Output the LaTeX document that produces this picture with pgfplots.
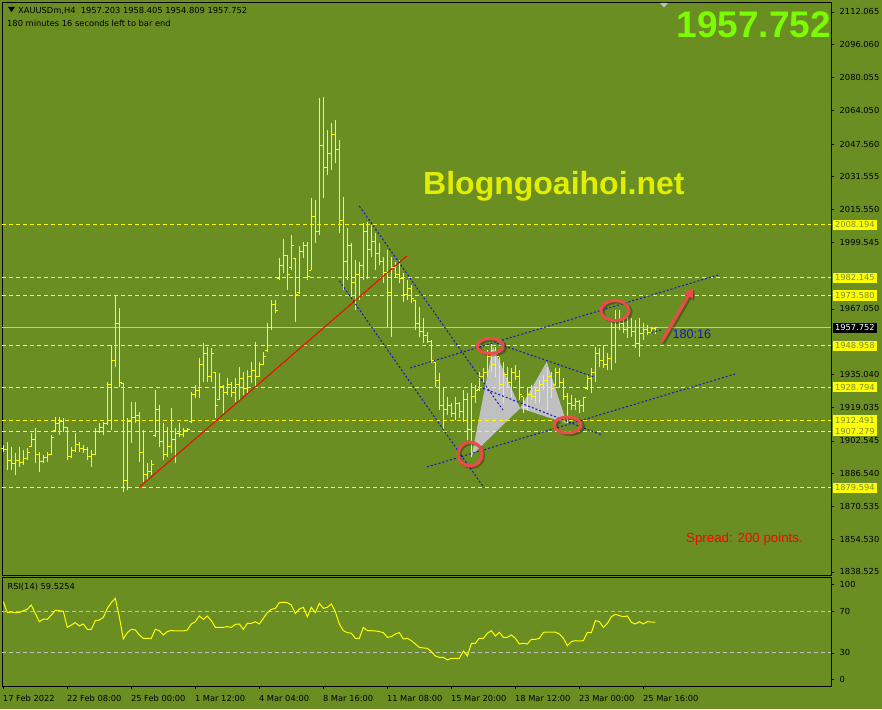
\documentclass[border=0pt]{standalone}
\usepackage{pgfplots}
\pgfplotsset{compat=1.18}
\usepackage{pgfplotstable}
\usepackage{fontspec}
\setmainfont{DejaVu Sans}
\newfontfamily\lib{Liberation Sans}
\usetikzlibrary{arrows.meta}
\definecolor{bg}{RGB}{107,142,35}
\definecolor{bar}{RGB}{255,255,0}
\definecolor{big}{RGB}{124,252,0}
\definecolor{wm}{RGB}{226,238,0}
\definecolor{anno}{RGB}{238,74,74}
\definecolor{ln}{RGB}{20,20,200}
\definecolor{silv}{RGB}{192,192,192}
\definecolor{lbltxt}{RGB}{120,140,60}

\pgfdeclareplotmark{openl}{\pgfpathmoveto{\pgfqpoint{-2.5pt}{0pt}}\pgfpathlineto{\pgfqpoint{0pt}{0pt}}\pgfusepathqstroke}
\pgfdeclareplotmark{closer}{\pgfpathmoveto{\pgfqpoint{0pt}{0pt}}\pgfpathlineto{\pgfqpoint{2.5pt}{0pt}}\pgfusepathqstroke}

\pgfplotstableread{
i o h l c
0 1899.0 1900.5 1897.3 1898.5
1 1898.5 1902.2 1888.3 1893.0
2 1893.0 1899.7 1888.3 1891.5
3 1891.5 1896.5 1885.9 1893.0
4 1893.0 1899.7 1889.9 1892.0
5 1892.0 1898.1 1890.8 1894.0
6 1894.0 1898.9 1893.2 1897.0
7 1900.0 1906.3 1899.7 1903.0
8 1903.0 1908.7 1891.6 1896.0
9 1896.0 1897.3 1887.5 1892.5
10 1892.5 1895.7 1891.6 1894.5
11 1894.5 1897.3 1892.4 1896.0
12 1896.0 1905.4 1895.7 1904.0
13 1907.5 1914.4 1907.0 1911.0
14 1911.0 1914.4 1905.4 1912.0
15 1912.0 1913.6 1907.0 1909.0
16 1909.0 1909.5 1893.2 1895.0
17 1895.0 1899.7 1894.0 1898.0
18 1898.0 1906.3 1897.3 1901.0
19 1901.0 1902.2 1897.3 1899.0
20 1899.0 1900.5 1896.5 1898.5
21 1898.5 1899.7 1893.2 1895.0
22 1895.0 1898.1 1889.9 1896.0
23 1896.0 1908.7 1895.7 1907.0
24 1907.0 1911.1 1906.3 1909.0
25 1909.0 1911.9 1905.4 1911.0
26 1911.0 1931.5 1910.3 1930.0
27 1930.0 1949.4 1907.9 1942.0
28 1942.0 1973.8 1938.8 1960.0
29 1960.0 1967.3 1929.0 1931.0
30 1930.7 1930.7 1877.7 1883.0
31 1883.0 1913.6 1878.6 1912.0
32 1912.0 1921.7 1901.4 1914.0
33 1914.0 1921.7 1911.1 1915.0
34 1915.0 1916.8 1892.4 1897.0
35 1897.0 1907.9 1882.6 1886.0
36 1886.0 1891.6 1883.4 1887.5
37 1887.5 1893.2 1885.9 1891.0
38 1905.0 1927.4 1904.6 1918.0
39 1918.0 1920.1 1899.7 1902.0
40 1902.0 1911.1 1893.2 1896.0
41 1896.0 1909.5 1894.8 1900.0
42 1900.0 1918.5 1896.5 1903.0
43 1903.0 1908.7 1891.6 1906.0
44 1906.0 1911.1 1904.6 1905.5
45 1905.5 1908.7 1904.6 1907.5
46 1907.5 1908.7 1907.0 1908.0
47 1912.0 1926.6 1911.9 1925.0
48 1925.0 1929.9 1923.4 1927.0
49 1927.0 1942.9 1923.4 1940.0
50 1940.0 1950.2 1931.5 1945.0
51 1945.0 1948.6 1931.5 1934.0
52 1934.0 1947.8 1931.5 1945.0
53 1936.0 1936.4 1913.6 1920.0
54 1923.0 1935.6 1922.5 1929.0
55 1929.0 1929.9 1916.0 1926.0
56 1926.0 1933.1 1925.0 1930.0
57 1930.0 1931.5 1924.1 1926.0
58 1926.0 1933.1 1921.7 1930.0
59 1930.0 1938.8 1922.5 1933.0
60 1933.0 1936.4 1925.0 1928.0
61 1928.0 1937.2 1925.8 1934.0
62 1934.0 1941.2 1930.7 1937.0
63 1937.0 1951.0 1929.0 1934.0
64 1934.0 1941.2 1933.9 1940.0
65 1940.0 1946.1 1939.6 1944.0
66 1946.5 1960.0 1946.1 1958.0
67 1958.0 1971.4 1956.7 1969.0
68 1969.0 1971.4 1964.9 1966.0
69 1982.0 1991.7 1981.1 1988.0
70 1988.0 2001.2 1984.4 1993.0
71 1993.0 1993.4 1976.3 1984.0
72 1987.0 2003.1 1986.0 1998.0
73 1991.7 1991.7 1960.8 1974.0
74 1975.0 1997.8 1974.6 1995.0
75 1995.0 1999.9 1991.7 1998.0
76 1998.0 1999.9 1981.1 1983.0
77 1986.0 2021.1 1986.0 2012.0
78 2012.0 2020.2 1999.1 2005.0
79 2005.0 2069.9 2003.1 2047.0
80 2047.0 2070.4 2021.1 2036.0
81 2036.0 2054.4 2032.4 2043.0
82 2043.0 2057.7 2034.9 2052.0
83 2052.0 2059.3 2038.2 2045.0
84 2045.0 2049.5 2004.0 2010.0
85 2010.0 2021.8 1976.3 1990.0
86 1990.0 2006.4 1981.1 1998.0
87 1998.0 1999.1 1973.0 1980.0
88 1980.0 1990.9 1966.5 1984.0
89 1984.0 1990.1 1971.4 1988.0
90 1988.0 2008.8 1981.1 2005.0
91 2005.0 2009.6 1981.8 1996.0
92 1996.0 2008.0 1992.5 2000.0
93 2000.0 2004.0 1986.0 1994.0
94 1994.0 1999.1 1988.5 1990.0
95 1990.0 1992.5 1979.5 1985.0
96 1985.0 1995.8 1958.3 1975.0
97 1975.0 1992.5 1953.3 1987.0
98 1987.0 1990.1 1982.0 1984.0
99 1984.0 1990.9 1979.5 1982.0
100 1982.0 1984.4 1970.5 1974.0
101 1974.0 1981.1 1971.4 1977.0
102 1977.0 1978.7 1969.8 1972.0
103 1971.0 1971.4 1956.7 1960.0
104 1960.0 1968.1 1953.3 1956.0
105 1956.0 1962.6 1950.2 1954.0
106 1954.0 1955.9 1950.2 1951.0
107 1951.0 1951.8 1940.4 1942.0
108 1941.0 1941.2 1929.0 1932.0
109 1932.0 1935.6 1917.6 1920.0
110 1920.0 1928.2 1907.9 1918.0
111 1918.0 1924.1 1915.2 1920.0
112 1920.0 1920.9 1914.4 1916.0
113 1916.0 1924.1 1912.8 1921.0
114 1921.0 1921.7 1913.6 1917.0
115 1917.0 1927.4 1911.9 1923.0
116 1923.0 1925.8 1903.0 1908.0
117 1908.0 1930.7 1894.8 1924.0
118 1924.0 1929.9 1920.9 1927.0
119 1927.5 1936.4 1927.4 1934.0
120 1934.0 1938.0 1930.7 1936.0
121 1936.0 1946.9 1933.9 1944.0
122 1944.0 1950.2 1936.4 1940.0
123 1940.0 1948.6 1933.9 1945.0
124 1943.7 1943.7 1927.4 1930.0
125 1930.0 1941.2 1920.9 1935.0
126 1935.0 1938.8 1929.0 1931.0
127 1931.0 1938.0 1924.1 1936.0
128 1936.0 1939.6 1932.3 1934.0
129 1934.0 1937.2 1922.5 1925.0
130 1924.1 1924.1 1916.0 1919.0
131 1919.0 1928.2 1917.6 1925.0
132 1925.0 1929.9 1922.5 1924.0
133 1924.0 1929.0 1920.9 1927.0
134 1927.0 1932.3 1920.9 1930.0
135 1930.0 1934.7 1927.4 1932.0
136 1932.0 1938.8 1917.6 1934.0
137 1934.0 1936.4 1923.4 1928.0
138 1930.0 1938.0 1929.9 1936.0
139 1936.0 1938.0 1928.2 1931.0
140 1931.0 1933.1 1922.5 1924.0
141 1924.0 1925.8 1911.1 1921.0
142 1921.0 1925.0 1917.6 1920.0
143 1920.0 1923.4 1917.6 1922.0
144 1922.0 1922.5 1916.0 1920.0
145 1920.0 1924.1 1916.8 1923.5
146 1928.0 1934.7 1927.4 1933.0
147 1933.0 1938.0 1925.8 1936.0
148 1936.0 1948.6 1931.5 1945.0
149 1945.0 1947.8 1938.8 1942.0
150 1942.0 1949.4 1938.0 1940.0
151 1940.0 1945.3 1937.2 1943.0
152 1943.0 1961.6 1937.2 1958.0
153 1958.0 1966.5 1940.4 1962.0
154 1962.0 1966.5 1956.7 1960.0
155 1960.0 1963.2 1955.1 1957.0
156 1957.0 1963.2 1952.7 1958.0
157 1958.0 1962.6 1953.5 1956.0
158 1956.0 1961.6 1947.8 1950.0
159 1950.0 1962.6 1943.7 1955.0
160 1955.0 1960.0 1951.8 1957.0
161 1957.0 1959.2 1954.3 1955.5
162 1955.5 1958.3 1955.1 1957.2
163 1957.203 1958.405 1954.809 1957.752
}\ohlc

\pgfplotstableread{
i v
0 79.2
1 68.7
2 69.3
3 68.7
4 68.7
5 70.6
6 71.9
7 76.0
8 68.0
9 60.0
10 62.6
11 62.3
12 66.4
13 70.9
14 70.6
15 70.0
16 54.6
17 56.8
18 59.1
19 55.9
20 57.8
21 52.7
22 52.7
23 61.0
24 61.6
25 64.2
26 72.8
27 78.3
28 82.4
29 64.8
30 43.4
31 49.5
32 52.7
33 52.1
34 47.3
35 44.1
36 44.1
37 44.1
38 52.7
39 51.4
40 47.3
41 50.5
42 51.7
43 51.1
44 51.1
45 51.1
46 52.1
47 57.8
48 60.0
49 65.5
50 62.3
51 65.5
52 61.0
53 54.6
54 54.6
55 54.6
56 55.3
57 54.6
58 57.5
59 57.8
60 52.7
61 58.4
62 58.4
63 60.0
64 57.8
65 63.2
66 68.7
67 71.9
68 72.8
69 78.3
70 78.6
71 78.3
72 76.0
73 68.0
74 72.2
75 73.8
76 64.8
77 73.8
78 68.7
79 77.6
80 72.8
81 73.8
82 77.0
83 69.6
84 57.8
85 51.4
86 49.5
87 48.9
88 44.1
89 44.1
90 54.6
91 51.4
92 51.4
93 51.1
94 50.5
95 49.5
96 45.0
97 45.7
98 48.2
99 49.5
100 43.4
101 44.1
102 41.8
103 38.6
104 35.4
105 34.8
106 34.5
107 31.3
108 27.1
109 25.8
110 25.8
111 23.3
112 24.9
113 24.9
114 24.9
115 31.9
116 27.1
117 39.3
118 39.3
119 44.1
120 44.1
121 48.9
122 51.4
123 46.3
124 49.8
125 45.0
126 45.0
127 47.3
128 44.1
129 38.6
130 39.3
131 38.6
132 43.1
133 43.1
134 44.1
135 49.8
136 50.1
137 50.1
138 50.1
139 48.2
140 44.1
141 37.0
142 40.9
143 41.8
144 41.5
145 41.8
146 49.8
147 49.5
148 61.0
149 60.0
150 54.6
151 58.4
152 64.8
153 67.1
154 65.8
155 64.8
156 65.5
157 59.4
158 57.8
159 60.0
160 57.8
161 60.0
162 59.7
163 59.5
}\rsi

\pgfplotsset{
  mt/.style={scale only axis, width=829pt, xmin=-0.325, xmax=206.9,
    axis line style={black, line width=0.8pt},
    tick align=outside, major tick length=3pt,
    tick style={black, line width=0.6pt},
    ytick pos=right, yticklabel pos=right,
    tick label style={font=\fontsize{8.3}{10}\selectfont, text=black},
    yticklabel style={anchor=west, inner sep=0pt, xshift=5.5pt},
    clip=false},
}
\tikzset{
  lvllbl/.style={anchor=west, xshift=1.3pt, fill=bar, text=lbltxt, inner xsep=2.6pt, inner ysep=2pt, text height=6.1pt, text depth=0pt, font=\fontsize{8.3}{10}\selectfont},
}

\begin{document}
\begin{tikzpicture}[x=1pt,y=1pt]
\fill[bg] (0,0) rectangle (882,709);
\useasboundingbox (0,0) rectangle (882,709);

\begin{axis}[mt, at={(2pt,134pt)}, anchor=south west, height=573pt,
  ymin=1837.03, ymax=2116.94, xtick=\empty,
  ytick={1838.525,1854.530,1870.535,1886.540,1902.545,1919.035,1935.040,1967.050,1999.545,2015.550,2031.555,2047.560,2064.050,2080.055,2096.060,2112.065},
  yticklabels={1838.525,1854.530,1870.535,1886.540,1902.545,1919.035,1935.040,1967.050,1999.545,2015.550,2031.555,2047.560,2064.050,2080.055,2096.060,2112.065},
  after end axis/.code={
    \node[lvllbl] at (axis cs:206.9,2008.194) {2008.194};
    \node[lvllbl] at (axis cs:206.9,1982.145) {1982.145};
    \node[lvllbl] at (axis cs:206.9,1973.580) {1973.580};
    \node[lvllbl, fill=black, text=white] at (axis cs:206.9,1957.752) {1957.752};
    \node[lvllbl] at (axis cs:206.9,1948.958) {1948.958};
    \node[lvllbl] at (axis cs:206.9,1928.794) {1928.794};
    \node[lvllbl] at (axis cs:206.9,1912.491) {1912.491};
    \node[lvllbl] at (axis cs:206.9,1907.279) {1907.279};
    \node[lvllbl] at (axis cs:206.9,1879.594) {1879.594};
  }]
% harmonic pattern fills
\addplot[fill=silv, draw=none] coordinates {(117.1,1895.5) (122.4,1948.6) (129.2,1918.5)};
\addplot[fill=silv, draw=none] coordinates {(129.2,1918.5) (135.85,1941.2) (140.85,1911.1)};
% levels
\pgfplotsinvokeforeach{2008.194,1982.145,1973.580,1948.958,1928.794,1912.491,1907.279,1879.594}{
  \addplot[bar, line width=1pt, dash pattern=on 4pt off 3pt] coordinates {(-0.325,#1) (206.9,#1)};
}
\addplot[silv, line width=1pt] coordinates {(-0.325,1957.752) (206.9,1957.752)};
% OHLC bars
\addplot[only marks, mark=openl, color=bar, mark options={line width=1pt},
  error bars/.cd, y dir=both, y explicit, error mark=none,
  error bar style={line width=1pt, color=bar}]
  table[x=i, y=o, y error plus expr=\thisrow{h}-\thisrow{o}, y error minus expr=\thisrow{o}-\thisrow{l}] {\ohlc};
\addplot[only marks, mark=closer, color=bar, mark options={line width=1pt}] table[x=i, y=c] {\ohlc};
% trend lines
\addplot[red, line width=1pt] coordinates {(34.0,1879.9) (100.85,1992.9)};
\addplot[ln, line width=1pt, dash pattern=on 2pt off 2pt] coordinates {(88.98,2017.3) (124.9,1917.6)};
\addplot[ln, line width=1pt, dash pattern=on 2pt off 2pt] coordinates {(84.0,1980.7) (120.2,1879.5)};
\addplot[ln, line width=1pt, dash pattern=on 2pt off 2pt] coordinates {(101.7,1938.2) (178.7,1983.6)};
\addplot[ln, line width=1pt, dash pattern=on 2pt off 2pt] coordinates {(105.9,1889.8) (182.9,1935.2)};
\addplot[ln, line width=1pt, dash pattern=on 2pt off 2pt] coordinates {(123.35,1950.2) (147.5,1933.9)};
\addplot[ln, line width=1pt, dash pattern=on 2pt off 2pt] coordinates {(120.0,1928.2) (149.6,1905.4)};
\addplot[ln, line width=1pt, dash pattern=on 2pt off 2pt] coordinates {(162.0,1955.5) (164.5,1956.8)};
% circles (shadow + ring)
\addplot[only marks, mark=o, mark size=12pt, black, opacity=0.3, mark options={line width=3pt, xshift=1.5pt, yshift=-1.5pt}] coordinates {(116.7,1896.1)};
\addplot[only marks, mark=o, mark size=12pt, anno, mark options={line width=3pt}] coordinates {(116.7,1896.1)};
\addplot[only marks, mark=o, mark size=7.5pt, black, opacity=0.3, mark options={xscale=1.73, line width=3pt, xshift=1.5pt, yshift=-1.5pt}] coordinates {(121.7,1948.9)};
\addplot[only marks, mark=o, mark size=7.5pt, anno, mark options={xscale=1.73, line width=3pt}] coordinates {(121.7,1948.9)};
\addplot[only marks, mark=o, mark size=8pt, black, opacity=0.3, mark options={xscale=1.69, line width=3pt, xshift=1.5pt, yshift=-1.5pt}] coordinates {(141.05,1910.3)};
\addplot[only marks, mark=o, mark size=8pt, anno, mark options={xscale=1.69, line width=3pt}] coordinates {(141.05,1910.3)};
\addplot[only marks, mark=o, mark size=10pt, black, opacity=0.3, mark options={xscale=1.4, line width=3pt, xshift=1.5pt, yshift=-1.5pt}] coordinates {(152.9,1966.2)};
\addplot[only marks, mark=o, mark size=10pt, anno, mark options={xscale=1.4, line width=3pt}] coordinates {(152.9,1966.2)};
% arrow
\addplot[black, opacity=0.3, line width=3pt, -{Triangle[length=9pt,width=10pt]}] coordinates {(165.0,1950.0) (172.75,1976.1)};
\addplot[anno, line width=3pt, -{Triangle[length=9pt,width=10pt]}] coordinates {(164.6,1951.0) (172.35,1977.1)};
\end{axis}

\begin{axis}[mt, at={(2pt,23pt)}, anchor=south west, height=109pt,
  ymin=-1.7, ymax=102.9,
  ytick={4.7,30,70,96.2}, yticklabels={0,30,70,100},
  xtick={0,16,32,48,64,80,96,112,128,144,160}, xtick pos=bottom,
  xticklabels={17 Feb 2022,22 Feb 08:00,25 Feb 00:00,1 Mar 12:00,4 Mar 04:00,8 Mar 16:00,11 Mar 08:00,15 Mar 20:00,18 Mar 12:00,23 Mar 00:00,25 Mar 16:00},
  xticklabel style={anchor=north west, inner sep=0pt, yshift=-6pt, xshift=-0.5pt}]
\addplot[silv, line width=1pt, dash pattern=on 4pt off 3pt] coordinates {(-0.325,70) (206.9,70)};
\addplot[silv, line width=1pt, dash pattern=on 4pt off 3pt] coordinates {(-0.325,30) (206.9,30)};
\addplot[bar, line width=1pt] table[x=i, y=v] {\rsi};
\end{axis}

% texts
\fill[black] (8,702) -- (15,702) -- (11.5,697) -- cycle;
\node[anchor=base west, inner sep=0pt, font=\fontsize{8.3}{10}\selectfont] at (18,695) {XAUUSDm,H4\ \ 1957.203 1958.405 1954.809 1957.752};
\node[anchor=base west, inner sep=0pt, font=\fontsize{8.3}{10}\selectfont] at (7,682) {180 minutes 16 seconds left to bar end};
\fill[silv] (660,706) -- (668,706) -- (664,701.5) -- cycle;
\node[anchor=base east, inner sep=0pt, font=\lib\bfseries\fontsize{37}{40}\selectfont, text=big] at (831,671.3) {1957.752};
\node[anchor=base west, inner sep=0pt, font=\lib\bfseries\fontsize{32}{36}\selectfont, text=wm] at (423,514) {Blogngoaihoi.net};
\node[anchor=base west, inner sep=0pt, font=\lib\fontsize{13.3}{15}\selectfont, text=red] at (686,166.3) {Spread: 200 points.};
\node[anchor=base west, inner sep=0pt, font=\lib\fontsize{12.6}{14}\selectfont, text=ln] at (672.5,370.5) {180:16};
\node[anchor=base west, inner sep=0pt, font=\fontsize{8.3}{10}\selectfont] at (7.3,119.7) {RSI(14) 59.5254};
\end{tikzpicture}
\end{document}
